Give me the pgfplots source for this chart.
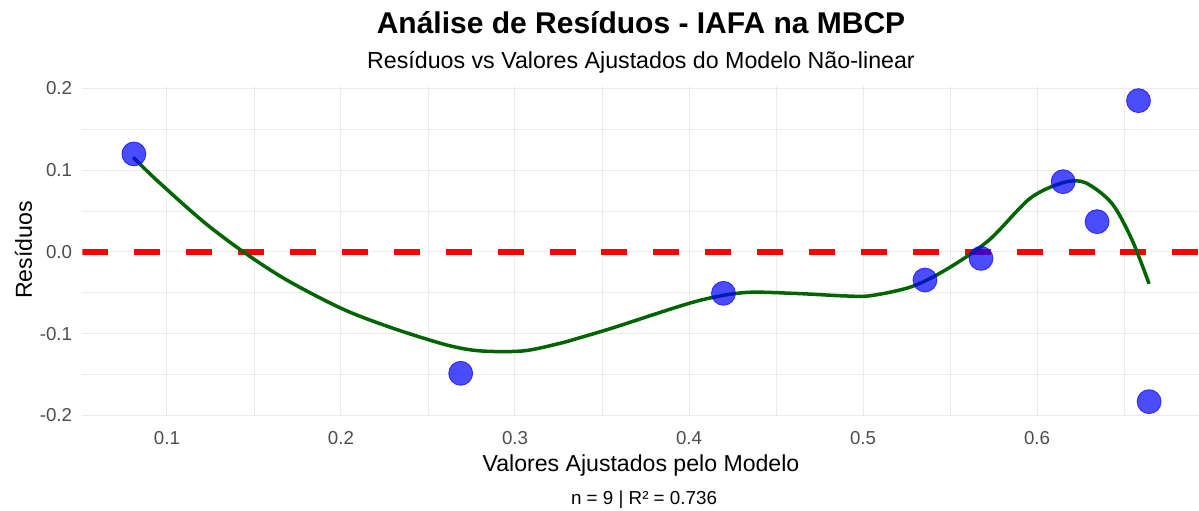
\documentclass[border=0pt]{standalone}
\usepackage{fontspec}
\setmainfont{Liberation Sans}
\usepackage{pgfplots}
\pgfplotsset{compat=1.18}
\definecolor{gridc}{HTML}{EBEBEB}
\definecolor{tickc}{HTML}{4D4D4D}
\definecolor{ptc}{HTML}{0000FF}
\definecolor{smoothc}{HTML}{006400}
\begin{document}
\begin{tikzpicture}
\useasboundingbox (0,0) rectangle (599.5pt,255pt);
\begin{axis}[
 at={(41.2pt,46.65pt)}, anchor=south west,
 scale only axis, width=558.75pt, height=165.55pt,
 xmin=0.0514, xmax=0.6936, ymin=-0.2015, ymax=0.2035,
 xtick={0.1,0.2,0.3,0.4,0.5,0.6}, xticklabels={0.1,0.2,0.3,0.4,0.5,0.6},
 ytick={-0.2,-0.1,0,0.1,0.2}, yticklabels={-0.2,-0.1,0.0,0.1,0.2},
 minor xtick={0.15,0.25,0.35,0.45,0.55,0.65},
 minor ytick={-0.15,-0.05,0.05,0.15},
 grid=both,
 major grid style={gridc, line width=0.5pt},
 minor grid style={gridc, line width=0.45pt},
 axis line style={draw=none},
 major tick style={draw=none}, minor tick style={draw=none},
 xticklabel style={font=\fontsize{9.35pt}{11pt}\selectfont, text=tickc, anchor=base, inner sep=0pt, yshift=-13.8pt},
 yticklabel style={font=\fontsize{9.35pt}{11pt}\selectfont, text=tickc, anchor=east, inner sep=0pt, xshift=-5pt},
]
\addplot[red, line width=2.67pt, dash pattern=on 13pt off 12.95pt] coordinates {(0.0514,0) (0.6936,0)};
\addplot[only marks, mark=*, mark size=6pt, mark options={fill=ptc, draw=ptc, opacity=0.7}] coordinates {
(0.0810,0.1199) (0.2688,-0.1484) (0.4198,-0.0506) (0.5356,-0.0343) (0.5678,-0.0078)
(0.6150,0.0860) (0.6345,0.0371) (0.6583,0.1851) (0.6644,-0.1831)};
\addplot[smoothc, line width=1.75pt, smooth, tension=0.5] coordinates {
(0.0806,0.1158) (0.094,0.088) (0.1209,0.0371) (0.144,0.0) (0.1688,-0.0343) (0.2013,-0.0701)
(0.230,-0.0934) (0.2608,-0.1138) (0.280,-0.121) (0.3048,-0.121) (0.3259,-0.1117) (0.3374,-0.1048)
(0.356,-0.093) (0.4034,-0.0608) (0.4316,-0.0497) (0.4598,-0.0506) (0.490,-0.0538) (0.5046,-0.0534)
(0.528,-0.0424) (0.549,-0.020) (0.5725,0.0147) (0.596,0.0656) (0.615,0.0848) (0.6277,0.0848)
(0.643,0.0595) (0.6546,0.0147) (0.6644,-0.039)};
\end{axis}
\node[anchor=base, font=\bfseries\fontsize{15pt}{18pt}\selectfont] at (320.5pt,238.35pt) {Análise de Resíduos - IAFA na MBCP};
\node[anchor=base, font=\fontsize{11.6pt}{14pt}\selectfont] at (320.5pt,220.85pt) {Resíduos vs Valores Ajustados do Modelo Não-linear};
\node[anchor=base, font=\fontsize{11.55pt}{14pt}\selectfont] at (320.5pt,19.5pt) {Valores Ajustados pelo Modelo};
\node[anchor=base, font=\fontsize{9.4pt}{11pt}\selectfont] at (322pt,2.85pt) {n = 9 | R² = 0.736};
\node[anchor=base, rotate=90, font=\fontsize{11.55pt}{14pt}\selectfont] at (16pt,130pt) {Resíduos};
\end{tikzpicture}
\end{document}
